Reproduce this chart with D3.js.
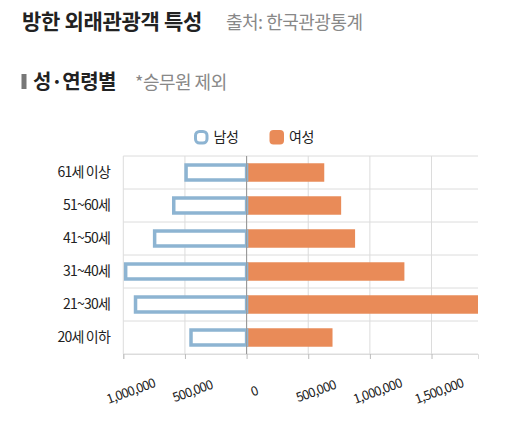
<!DOCTYPE html>
<html>
<head>
<meta charset="utf-8">
<script src="https://cdn.jsdelivr.net/npm/d3@7"></script>
<style>
  body { margin: 0; background: #fff; }
  text { font-family: "Noto Sans CJK KR", "Noto Sans", sans-serif; }
</style>
</head>
<body>
<script>
let ageGroups = ["61세 이상", "51~60세", "41~50세", "31~40세", "21~30세", "20세 이하"];
let maleValues = [505000, 605000, 760000, 995000, 915000, 465000];
let femaleValues = [630000, 767000, 880000, 1280000, 1877000, 697000];
let tickValues = [-1000000, -500000, 0, 500000, 1000000, 1500000];
let seriesNames = ["남성", "여성"];

let w = 522, h = 431;
let margin = {left: 123.3, right: 44, top: 156, bottom: 77};
let blue = "#8db4d2", orange = "#e98b58";

let svg = d3.select("body").append("svg").attr("width", w).attr("height", h);

// titles
svg.append("text").attr("x", 22).attr("y", 29).attr("font-size", 21).attr("font-weight", "bold")
  .attr("letter-spacing", "-0.3px").attr("fill", "#222").text("방한 외래관광객 특성");
svg.append("text").attr("x", 226).attr("y", 29).attr("font-size", 18).attr("fill", "#888")
  .attr("letter-spacing", "-0.5px").text("출처: 한국관광통계");
svg.append("rect").attr("x", 21.5).attr("y", 74).attr("width", 5).attr("height", 15).attr("fill", "#777");
svg.append("text").attr("x", 33).attr("y", 89).attr("font-size", 20).attr("font-weight", "bold")
  .attr("letter-spacing", "-0.5px").attr("fill", "#222").text("성·연령별");
svg.append("text").attr("x", 135).attr("y", 89).attr("font-size", 18).attr("fill", "#888")
  .attr("letter-spacing", "-0.5px").text("*승무원 제외");

let x = d3.scaleLinear()
  .domain([-1000000, d3.max(femaleValues)])
  .range([margin.left, w - margin.right]);
let y = d3.scaleBand().domain(ageGroups).range([margin.top, h - margin.bottom]).paddingInner(0.44).paddingOuter(0.22);

let chartGroup = svg.append("g");

// horizontal grid (band borders)
let bandEdges = d3.range(ageGroups.length + 1).map(i => margin.top + i * (h - margin.top - margin.bottom) / ageGroups.length);
chartGroup.selectAll("line.hgrid").data(bandEdges).enter().append("line")
  .attr("class", "hgrid")
  .attr("x1", x.range()[0]).attr("x2", x.range()[1])
  .attr("y1", d => d).attr("y2", d => d)
  .attr("stroke", "#dcdcdc").attr("stroke-width", 1);

// vertical grid
chartGroup.selectAll("line.vgrid").data(tickValues).enter().append("line")
  .attr("class", "vgrid")
  .attr("x1", d => x(d)).attr("x2", d => x(d))
  .attr("y1", margin.top).attr("y2", h - margin.bottom)
  .attr("stroke", d => d === 0 ? "#9a9a9a" : "#dcdcdc").attr("stroke-width", 1);

// female bars
chartGroup.selectAll("rect.female").data(femaleValues).enter().append("rect")
  .attr("class", "female")
  .attr("x", x(0))
  .attr("y", (d, i) => y(ageGroups[i]))
  .attr("width", d => x(d) - x(0))
  .attr("height", y.bandwidth())
  .attr("fill", orange);

// male bars (outlined)
let sw = 3.5;
chartGroup.selectAll("rect.male").data(maleValues).enter().append("rect")
  .attr("class", "male")
  .attr("x", d => x(-d) + sw / 2)
  .attr("y", (d, i) => y(ageGroups[i]) + sw / 2)
  .attr("width", d => x(0) - x(-d) - sw / 2)
  .attr("height", y.bandwidth() - sw)
  .attr("fill", "#fff")
  .attr("stroke", blue).attr("stroke-width", sw);

// zero line on top
chartGroup.append("line")
  .attr("x1", x(0)).attr("x2", x(0))
  .attr("y1", margin.top).attr("y2", h - margin.bottom)
  .attr("stroke", "#9a9a9a").attr("stroke-width", 1);

// x axis
let xAxis = d3.axisBottom(x).tickValues(tickValues).tickSize(5)
  .tickFormat(d => d3.format(",")(Math.abs(d)));
let xg = svg.append("g").attr("transform", "translate(0," + (h - margin.bottom) + ")").call(xAxis);
xg.select(".domain").attr("stroke", "#dcdcdc");
xg.selectAll(".tick line").attr("stroke", "#bbb");
xg.selectAll(".tick text")
  .attr("font-size", 13).attr("fill", "#222").attr("letter-spacing", "-0.8px")
  .attr("text-anchor", "middle").attr("y", 0).attr("dy", "0.35em")
  .attr("transform", "translate(7,37) rotate(-20)");

// y labels
svg.selectAll("text.ylab").data(ageGroups).enter().append("text")
  .attr("class", "ylab")
  .attr("x", 110)
  .attr("y", d => y(d) + y.bandwidth() / 2)
  .attr("dy", "0.35em")
  .attr("text-anchor", "end")
  .attr("font-size", 14).attr("letter-spacing", "-0.8px").attr("fill", "#222")
  .text(d => d);

// legend
let legend = svg.append("g");
let legendX = [195.5, 271];
legend.selectAll("rect").data(seriesNames).enter().append("rect")
  .attr("x", (d, i) => legendX[i] + (i === 0 ? 0 : -1.5))
  .attr("y", (d, i) => i === 0 ? 131.5 : 130)
  .attr("width", (d, i) => i === 0 ? 11.5 : 14.5)
  .attr("height", (d, i) => i === 0 ? 11.5 : 14.5)
  .attr("rx", 4)
  .attr("fill", (d, i) => i === 0 ? "#fff" : orange)
  .attr("stroke", (d, i) => i === 0 ? blue : "none")
  .attr("stroke-width", 3);
legend.selectAll("text").data(seriesNames).enter().append("text")
  .attr("x", (d, i) => legendX[i] + 18)
  .attr("y", 137)
  .attr("dy", "0.35em")
  .attr("font-size", 14).attr("letter-spacing", "-0.5px").attr("fill", "#222")
  .text(d => d);
</script>
</body>
</html>
